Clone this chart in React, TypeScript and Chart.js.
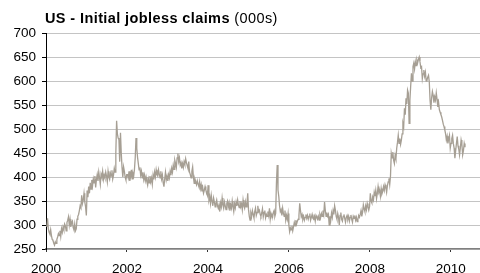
import { useEffect, useRef } from 'react';
import { Chart, registerables } from 'chart.js';
Chart.register(...registerables);

// Weekly initial jobless claims (000s), first week ending 8 Jan 2000
const claims2000 = [296, 314, 292, 285, 281, 290, 278, 270, 268, 262, 258, 265, 262,
  270, 275, 282, 278, 288, 276, 292, 285, 296, 290, 302, 298, 288,
  305, 310, 317, 300, 312, 296, 305, 308, 295, 290, 302, 288, 292,
  312, 318, 322, 330, 340, 336, 362, 345, 352, 366, 348, 338, 320];
const claims2001 = [372, 358, 380, 366, 388, 375, 394, 382, 396, 388, 402, 378, 395,
  405, 392, 410, 398, 385, 406, 400, 412, 395, 404, 398, 410, 402,
  390, 412, 400, 395, 408, 402, 414, 396, 404, 418, 410, 450, 517,
  490, 481, 478, 432, 492, 450, 420, 400, 421, 412, 400, 394, 405];
const claims2002 = [405, 398, 412, 392, 400, 415, 396, 408, 402, 416, 440, 481, 460,
  441, 428, 415, 420, 404, 412, 398, 410, 395, 404, 392, 400, 390,
  383, 396, 388, 402, 390, 398, 385, 404, 395, 410, 400, 415, 405,
  402, 415, 406, 398, 412, 396, 404, 388, 380, 396, 410, 394, 402];
const claims2003 = [392, 405, 398, 412, 404, 418, 410, 425, 416, 435, 428, 420, 440,
  449, 432, 440, 425, 430, 418, 428, 420, 432, 426, 438, 430, 424,
  418, 432, 410, 405, 398, 412, 421, 400, 387, 396, 390, 384, 392,
  385, 380, 390, 376, 384, 370, 378, 366, 372, 380, 373, 368, 362];
const claims2004 = [383, 352, 359, 345, 362, 350, 340, 356, 348, 338, 345, 352, 340,
  335, 342, 328, 346, 338, 356, 342, 335, 348, 340, 332, 345, 350,
  338, 346, 330, 342, 335, 350, 338, 328, 344, 336, 348, 340, 352,
  342, 336, 350, 338, 344, 332, 352, 340, 335, 348, 338, 345, 366];
const claims2005 = [332, 318, 310, 325, 318, 330, 322, 315, 328, 335, 320, 326, 340,
  328, 331, 322, 318, 325, 334, 317, 326, 330, 315, 322, 318, 328,
  320, 335, 312, 324, 318, 316, 326, 330, 318, 324, 388, 425, 373,
  360, 340, 328, 332, 320, 335, 324, 318, 330, 310, 320, 312, 324];
const claims2006 = [300, 286, 294, 290, 298, 288, 296, 305, 298, 310, 302, 308, 312,
  320, 345, 330, 317, 322, 312, 318, 310, 316, 322, 314, 320, 312,
  318, 324, 310, 316, 322, 314, 312, 318, 308, 320, 316, 312, 318,
  310, 322, 316, 324, 318, 330, 322, 348, 330, 318, 326, 318, 322];
const claims2007 = [300, 318, 310, 325, 316, 330, 322, 340, 331, 318, 312, 324, 316,
  300, 320, 326, 312, 308, 318, 322, 314, 306, 316, 320, 312, 318,
  308, 316, 321, 312, 306, 318, 314, 320, 310, 316, 307, 312, 320,
  316, 322, 330, 318, 326, 342, 334, 328, 340, 332, 345, 338, 331];
const claims2008 = [338, 366, 350, 346, 358, 352, 368, 360, 372, 355, 366, 380, 368,
  372, 360, 376, 365, 370, 380, 372, 384, 378, 368, 382, 390, 397,
  384, 402, 449, 440, 452, 435, 428, 445, 438, 460, 472, 487, 470,
  480, 468, 477, 490, 512, 505, 543, 530, 564, 552, 581, 575, 512];
const claims2009 = [560, 589, 616, 600, 630, 637, 625, 640, 632, 644, 638, 645, 650,
  640, 628, 630, 605, 615, 623, 610, 618, 600, 602, 608, 612, 598,
  560, 540, 565, 578, 570, 555, 567, 560, 575, 562, 546, 555, 540,
  535, 530, 525, 518, 510, 505, 498, 490, 477, 485, 470, 480, 487];
const claims2010 = [460, 470, 480, 487, 470, 460, 439, 455, 470, 484, 465, 458, 446, 460, 477, 468, 446, 455, 470, 462];

const claims = [
  ...claims2000, ...claims2001, ...claims2002, ...claims2003, ...claims2004,
  ...claims2005, ...claims2006, ...claims2007, ...claims2008, ...claims2009, ...claims2010,
];

const xTickYears = [2000, 2002, 2004, 2006, 2008, 2010];
const yMin = 250;
const yMax = 700;
const yStep = 50;
const xMin = 2000;
const xMax = 2010.72;

const FONT = '"Liberation Sans", Arial, Helvetica, sans-serif';

export default function App() {
  const ref = useRef<HTMLCanvasElement | null>(null);

  useEffect(() => {
    if (!ref.current) return;
    const points = claims.map((v, i) => ({ x: 2000 + (7 * i + 7) / 365.25, y: v }));
    const chart = new Chart(ref.current, {
      type: 'line',
      data: {
        datasets: [
          {
            data: points,
            borderColor: '#a69f94',
            borderWidth: 1.3,
            pointRadius: 0,
            tension: 0,
            fill: false,
          },
        ],
      },
      options: {
        animation: false,
        responsive: false,
        devicePixelRatio: 1,
        layout: { padding: { top: 33, left: 0, right: 0, bottom: 0 } },
        plugins: { legend: { display: false }, tooltip: { enabled: false }, title: { display: false } },
        scales: {
          x: {
            type: 'linear',
            min: xMin,
            max: xMax,
            afterBuildTicks: (scale: any) => {
              scale.ticks = xTickYears.map((v) => ({ value: v }));
            },
            afterFit: (scale: any) => {
              scale.height = 24;
            },
            grid: { drawOnChartArea: false, drawTicks: true, tickLength: 3, tickColor: '#333' },
            border: { color: '#808080', width: 1.5 },
            ticks: {
              color: '#000',
              font: { family: FONT, size: 13.5 },
              padding: 9,
              maxRotation: 0,
              autoSkip: false,
              callback: (v: any) => String(v),
            },
          },
          y: {
            min: yMin,
            max: yMax,
            afterFit: (scale: any) => {
              scale.width = 46;
            },
            grid: { color: '#c4c4c4', tickColor: '#000', tickLength: 4 },
            border: { color: '#000', width: 1 },
            ticks: {
              stepSize: yStep,
              color: '#000',
              font: { family: FONT, size: 13.5 },
              padding: 6,
              callback: (v: any) => String(v),
            },
          },
        },
      },
    });
    return () => chart.destroy();
  }, []);

  return (
    <div style={{ position: 'fixed', left: 0, top: 0, width: 480, height: 273, background: '#fff', overflow: 'hidden' }}>
      <canvas ref={ref} width={480} height={273} style={{ display: 'block' }} />
      <div
        style={{
          position: 'absolute',
          left: 45,
          top: 11,
          fontFamily: FONT,
          fontSize: 14.5,
          lineHeight: '14.5px',
          color: '#000',
          whiteSpace: 'nowrap',
          letterSpacing: '0.4px',
        }}
      >
        <b>US - Initial jobless claims</b> <span>(000s)</span>
      </div>
    </div>
  );
}
